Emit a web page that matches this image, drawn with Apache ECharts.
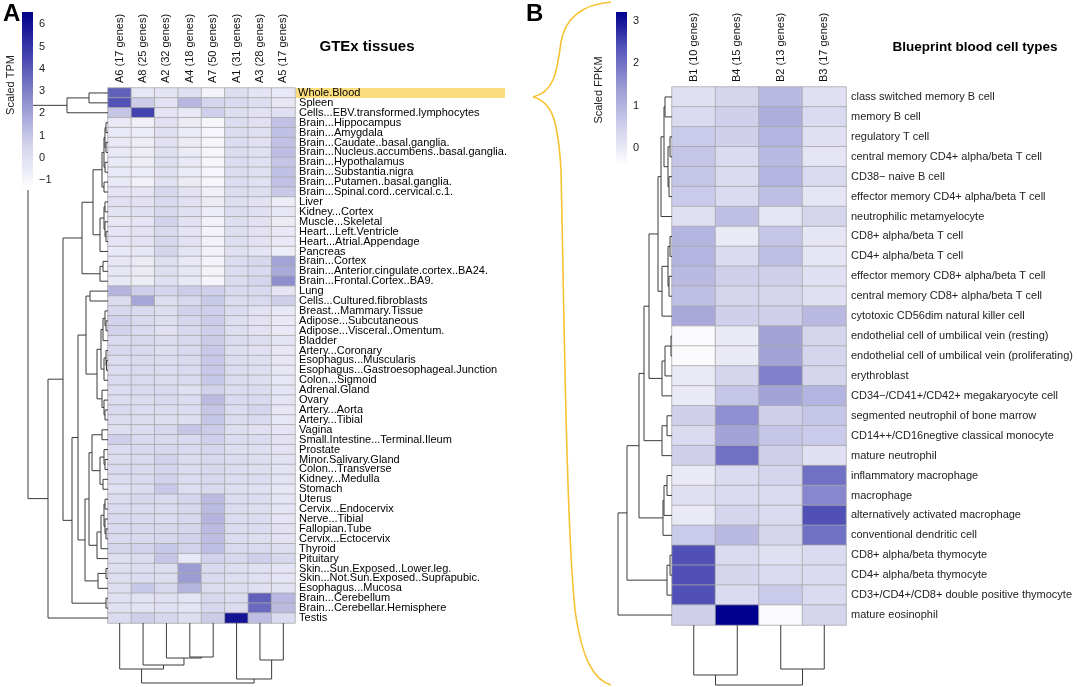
<!DOCTYPE html>
<html><head><meta charset="utf-8">
<script src="https://cdn.jsdelivr.net/npm/echarts@6/dist/echarts.min.js"></script>
<style>html,body{margin:0;padding:0;background:#fff}#c{width:1079px;height:687px}</style>
</head><body><div id="c"></div>
<script>
// ---------------- DATA ----------------
const gtexCols = ['A6 (17 genes)','A8 (25 genes)','A2 (32 genes)','A4 (18 genes)','A7 (50 genes)','A1 (31 genes)','A3 (28 genes)','A5 (17 genes)'];
const gtexTissues = ['Whole.Blood','Spleen','Cells...EBV.transformed.lymphocytes','Brain...Hippocampus','Brain...Amygdala','Brain...Caudate..basal.ganglia.','Brain...Nucleus.accumbens..basal.ganglia.','Brain...Hypothalamus','Brain...Substantia.nigra','Brain...Putamen..basal.ganglia.','Brain...Spinal.cord..cervical.c.1.','Liver','Kidney...Cortex','Muscle...Skeletal','Heart...Left.Ventricle','Heart...Atrial.Appendage','Pancreas','Brain...Cortex','Brain...Anterior.cingulate.cortex..BA24.','Brain...Frontal.Cortex..BA9.','Lung','Cells...Cultured.fibroblasts','Breast...Mammary.Tissue','Adipose...Subcutaneous','Adipose...Visceral..Omentum.','Bladder','Artery...Coronary','Esophagus...Muscularis','Esophagus...Gastroesophageal.Junction','Colon...Sigmoid','Adrenal.Gland','Ovary','Artery...Aorta','Artery...Tibial','Vagina','Small.Intestine...Terminal.Ileum','Prostate','Minor.Salivary.Gland','Colon...Transverse','Kidney...Medulla','Stomach','Uterus','Cervix...Endocervix','Nerve...Tibial','Fallopian.Tube','Cervix...Ectocervix','Thyroid','Pituitary','Skin...Sun.Exposed..Lower.leg.','Skin...Not.Sun.Exposed..Suprapubic.','Esophagus...Mucosa','Brain...Cerebellum','Brain...Cerebellar.Hemisphere','Testis'];
const gtexA6 = [3.8,4.2,1.0,-0.4,-0.4,-0.4,-0.4,-0.4,-0.4,-0.4,-0.2,0,-0.1,-0.3,-0.2,-0.2,-0.4,-0.3,-0.3,-0.4,1.5,0.2,0.4,0.6,0.6,0.3,0.4,0.2,0.2,0.3,0.2,0.2,0.3,0.2,0.1,0.7,0.2,0.2,0.3,0.2,0,0.2,0.3,0.3,0.3,0.3,0.5,0.1,0.1,0.1,0.1,0,0,0.2];
const gtexA8 = [-0.3,0.8,4.6,-0.7,-0.6,-0.6,-0.6,-0.6,-0.6,-0.8,-0.2,-0.1,0,-0.2,-0.1,-0.1,-0.3,-0.5,-0.5,-0.6,0.7,1.9,0.3,0.3,0.3,0.4,0.3,0.3,0.3,0.3,0.3,0.2,0.2,0.2,0.2,0.3,0.3,0.3,0.3,0.3,0.2,0.4,0.3,0.3,0.4,0.3,0.6,0.2,0.2,0.2,0.9,-0.1,-0.1,0.7];
const gtexA2 = [-0.2,-0.1,-0.2,0,0,0,0,0.1,0,0,0.4,0.3,0.4,0.6,0.3,0.4,0.5,0.1,0.1,0,0.5,0.1,0.1,0.1,0,0.2,0.1,0.2,0.2,0.2,0.3,0.3,0.2,0.1,0.4,0.3,0.4,0.6,0.5,0.6,0.9,0.3,0.3,0.2,0.4,0.4,0.9,1.0,0.1,0.1,0.4,0,0,0.4];
const gtexA4 = [0,1.4,-0.4,-0.5,-0.5,-0.5,-0.5,-0.4,-0.5,-0.5,-0.1,0,0,-0.1,-0.2,-0.1,-0.2,-0.4,-0.3,-0.4,0.8,0.4,0.6,0.4,0.4,0.4,0.3,0.3,0.3,0.3,0,0.2,0.2,0.1,1.0,0.3,0.3,0.2,0.2,0.2,0.1,0.5,0.4,0.4,0.5,0.6,0.6,-0.4,2.2,2.2,1.5,-0.2,-0.2,0.1];
const gtexA7 = [-0.9,0.5,0.7,-1,-1,-1,-1,-1,-1,-1,-0.7,-0.5,-0.6,-0.8,-0.9,-0.8,-0.8,-0.9,-0.9,-1,0.7,0.9,0.7,0.8,0.7,0.8,0.9,0.9,0.9,0.9,0.6,1.3,1.0,1.0,0.8,0.7,0.5,0.4,0.4,0.4,0.3,1.3,1.3,1.5,1.3,1.2,1.2,0.6,0.3,0.3,0.2,0.4,0.4,0.8];
const gtexA1 = [0.1,0.3,0.1,0.2,0.2,0.2,0.2,0.2,0.2,0.2,0.2,0.1,0.2,0.1,0.1,0.1,0,0.2,0.2,0.2,0.3,0.2,0.2,0.1,0.1,0.2,0.1,0.2,0.2,0.2,0.2,0.3,0.2,0.2,0.1,0.2,0.1,0.2,0.2,0.2,0.1,0.2,0.2,0.2,0.2,0.2,0.3,0.4,0.1,0.1,0.1,0.2,0.2,6.0];
const gtexA3 = [-0.2,0.1,-0.1,0,0,0,0,0,0,0,0.1,-0.1,0,-0.1,-0.1,-0.1,-0.2,0.4,0.3,0.5,0.3,0.3,-0.1,-0.1,-0.1,0.1,0,0.1,0.1,0.1,0.2,0.3,0.5,0.3,0,0.2,0.1,0.1,0.1,0.2,0,0.2,0.1,0.2,0.2,0.1,0.3,0.7,0,0,0,3.8,3.6,1.2];
const gtexA5 = [-0.4,-0.3,0,1.1,1.1,1.1,1.2,1.0,1.1,1.1,0.9,-0.6,-0.3,-0.5,-0.4,-0.4,-0.6,2.0,1.8,2.6,-0.2,0.7,-0.4,-0.4,-0.4,-0.2,-0.3,-0.3,-0.3,-0.3,-0.2,-0.2,-0.3,-0.3,-0.2,-0.1,-0.1,-0.1,-0.1,-0.1,-0.3,-0.2,-0.2,-0.2,-0.1,-0.1,0.1,0.4,-0.2,-0.2,-0.1,1.4,1.3,0.2];
const gtexTPMTicks = [-1,0,1,2,3,4,5,6];

const bpCols = ['B1 (10 genes)','B4 (15 genes)','B2 (13 genes)','B3 (17 genes)'];
const bpCells = ['class switched memory B cell','memory B cell','regulatory T cell','central memory CD4+ alpha/beta T cell','CD38\u2212 naive B cell','effector memory CD4+ alpha/beta T cell','neutrophilic metamyelocyte','CD8+ alpha/beta T cell','CD4+ alpha/beta T cell','effector memory CD8+ alpha/beta T cell','central memory CD8+ alpha/beta T cell','cytotoxic CD56dim natural killer cell','endothelial cell of umbilical vein (resting)','endothelial cell of umbilical vein (proliferating)','erythroblast','CD34\u2212/CD41+/CD42+ megakaryocyte cell','segmented neutrophil of bone marrow','CD14++/CD16negtive classical monocyte','mature neutrophil','inflammatory macrophage','macrophage','alternatively activated macrophage','conventional dendritic cell','CD8+ alpha/beta thymocyte','CD4+ alpha/beta thymocyte','CD3+/CD4+/CD8+ double positive thymocyte','mature eosinophil'];
const bpB1 = [0.2,0.3,0.6,0.7,0.7,0.6,0.2,1.0,1.0,0.9,0.8,1.2,-0.3,-0.3,0,0,0.5,0.3,0.5,0,0.2,0,0.6,2.4,2.4,2.4,0.5];
const bpB4 = [0.4,0.5,0.5,0.3,0.3,0.3,0.8,0,0.3,0.5,0.4,0.5,0,0,0.4,0.7,1.6,1.3,2.0,0.3,0.3,0.4,0.9,0.3,0.4,0.3,3.2];
const bpB2 = [0.9,1.1,1.0,0.9,1.0,0.8,0.1,0.7,0.8,0.5,0.4,0.5,1.3,1.3,1.8,1.3,0.5,0.7,0.5,0.4,0.3,0.3,0.4,0.2,0.3,0.6,-0.3];
const bpB3 = [0.2,0.3,0.2,0.1,0.3,0.1,0.4,0.1,0.1,0.2,0.2,0.9,0.4,0.4,0.4,1.0,0.7,0.6,0.2,2.0,1.7,2.4,2.0,0.3,0.3,0.3,0.4];
const bpFPKMTicks = [0,1,2,3];

// dendrograms: node = [mergeHeight, left, right], leaf = row/column index
const gtexRowTree =
 [80,
   [41, [19, 0, 1], 2],
   [60,
     [45,
       [26, [15, [6, [4, [3, [2,3,4], [2,5,6]], [3,7,8]], [4,9,10]],
                 [8, [4, [3,11,12], [3,13,[2,14,15]]], 16]],
            [8, [5,17,18], 19]],
       [36,
         [30, [22, [18,20,21],
                   [11, [7, [5, [3,22,[2,23,24]],25], [4,[2,26,[1.5,27,28]],29]], [6,30,[4,31,[3,32,33]]]]],
              [23, [19, [16,[6,34,35],[8,[4,36,[3,37,38]],[5,39,40]]],
                        [11,[7,[4,[3,41,42],[3,43,[2,44,45]]],46],47]],
                   [10,[2,48,49],50]]],
         [2,51,52]]],
     53]];
const gtexColTree = [60, [46, 0, [42, 1, [35, 2, [34, 3, 4]]]], [56, 5, [37, 6, 7]]];
const bpRowTree =
 [54,
   [45,
     [33,
       [28,
         [23,
           [14, [11, [8, [7,0,1], [4,[2,2,3],[3,4,5]]], 6],
                [10, [4,[2,7,8],[3,9,10]], 11]],
           [10, [7, [1,12,13], 14], 15]],
         [10, [5,16,17], 18]],
       [9, [8, [5,19,20], 21], 22]],
     [5, [2,23,24], 25]],
   26];
const bpColTree = [60, [50, 0, 1], [44, 2, 3]];

// ---------------- BUILD ----------------
const FONT = '"Liberation Sans", Arial, Helvetica, sans-serif';
const tpmColors = ['#ffffff','#d4d4ed','#9090d0','#4545b0','#00008a'];
const fpkmColors = ['#ffffff','#d0d0ec','#9d9dd6','#5a5abc','#00008f'];
const TPM_MIN = -1.45, TPM_MAX = 6.55, FPKM_MIN = -0.4, FPKM_MAX = 3.2;

function cells(cols){
  const out = [];
  cols.forEach((arr, c) => arr.forEach((v, r) => out.push([c, r, v])));
  return out;
}
function dendroSegs(tree){
  const segs = [];
  (function walk(n){
    if (typeof n === 'number') return {p: n + 0.5, h: 0};
    const a = walk(n[1]), b = walk(n[2]);
    segs.push([a.p, a.h, b.p, b.h, n[0]]);
    return {p: (a.p + b.p) / 2, h: n[0]};
  })(tree);
  return segs;
}
function dendroSeries(idx, tree, horizontal){
  return {
    type: 'custom', xAxisIndex: idx, yAxisIndex: idx, silent: true, clip: false,
    data: dendroSegs(tree),
    encode: horizontal ? {x: [1,3,4], y: [0,2]} : {x: [0,2], y: [1,3,4]},
    renderItem(params, api){
      const p1 = api.value(0), h1 = api.value(1), p2 = api.value(2), h2 = api.value(3), h = api.value(4);
      const pt = (pos, ht) => horizontal ? api.coord([ht, pos]) : api.coord([pos, ht]);
      return {type: 'polyline', shape: {points: [pt(p1,h1), pt(p1,h), pt(p2,h), pt(p2,h2)]},
              style: {stroke: '#3a3a3a', lineWidth: 1, fill: null}};
    }
  };
}
function colorBarSeries(idx, lo, hi, colors){
  const stops = colors.slice().reverse().map((c,i,a)=>({offset: i/(a.length-1), color: c}));
  return {
    type: 'custom', xAxisIndex: idx, yAxisIndex: idx, silent: true, clip: false,
    data: [[0, lo, 1, hi]], encode: {x: [0,2], y: [1,3]},
    renderItem(params, api){
      const a = api.coord([api.value(0), api.value(3)]);
      const b = api.coord([api.value(2), api.value(1)]);
      return {type: 'rect', shape: {x: a[0], y: a[1], width: b[0]-a[0], height: b[1]-a[1]},
              style: {fill: {type:'linear', x:0, y:0, x2:0, y2:1, colorStops: stops}}};
    }
  };
}
const minusFmt = v => v < 0 ? '\u2212' + Math.abs(v) : String(v);
const hidden = {show: false};
const g = (l,t,w,h) => ({left:l, top:t, width:w, height:h, containLabel:false, outerBoundsMode:'none'});
const braceStyle = {stroke:'#F6C232', lineWidth:1.6, fill:null};
const bz = (x1,y1,c1x,c1y,c2x,c2y,x2,y2) => ({type:'bezierCurve', silent:true,
  shape:{x1:x1, y1:y1, cpx1:c1x, cpy1:c1y, cpx2:c2x, cpy2:c2y, x2:x2, y2:y2}, style:braceStyle});

const option = {
  animation: false,
  backgroundColor: '#ffffff',
  textStyle: {fontFamily: FONT},
  grid: [
    g(108, 88, 187, 535),   // 0 heatmap A
    g(0, 88, 108, 535),     // 1 row dendro A
    g(108, 623, 187, 64),   // 2 col dendro A
    g(672, 87, 174, 538),   // 3 heatmap B
    g(600, 87, 72, 538),    // 4 row dendro B
    g(672, 625, 174, 62),   // 5 col dendro B
    g(22, 12, 11, 178),     // 6 legend A
    g(616, 12, 11, 153)     // 7 legend B
  ],
  xAxis: [
    {type:'category', gridIndex:0, data:gtexCols, position:'top', axisLine:hidden, axisTick:hidden, splitLine:hidden,
     axisLabel:{rotate:-90, margin:5, fontSize:11, color:'#111', interval:0, fontFamily:FONT}},
    {type:'value', gridIndex:1, min:0, max:108, inverse:true, show:false},
    {type:'value', gridIndex:2, min:0, max:8, show:false},
    {type:'category', gridIndex:3, data:bpCols, position:'top', axisLine:hidden, axisTick:hidden, splitLine:hidden,
     axisLabel:{rotate:-90, margin:5, fontSize:11, color:'#111', interval:0, fontFamily:FONT}},
    {type:'value', gridIndex:4, min:0, max:72, inverse:true, show:false},
    {type:'value', gridIndex:5, min:0, max:4, show:false},
    {type:'value', gridIndex:6, min:0, max:1, show:false},
    {type:'value', gridIndex:7, min:0, max:1, show:false}
  ],
  yAxis: [
    {type:'category', gridIndex:0, data:gtexTissues, inverse:true, position:'right', axisLine:hidden, axisTick:hidden, splitLine:hidden,
     axisLabel:{interval:0, margin:1, fontSize:11, color:'#000', fontFamily:FONT, lineHeight:10,
       formatter: v => v === 'Whole.Blood' ? '{hl|' + v + '}' : ' ' + v,
       rich:{hl:{backgroundColor:'#FBDD7E', width:207, height:10, lineHeight:10, fontSize:11, fontFamily:FONT, color:'#000', padding:[0,0,0,2]}}}},
    {type:'value', gridIndex:1, min:0, max:54, inverse:true, show:false},
    {type:'value', gridIndex:2, min:0, max:64, inverse:true, show:false},
    {type:'category', gridIndex:3, data:bpCells, inverse:true, position:'right', axisLine:hidden, axisTick:hidden, splitLine:hidden,
     axisLabel:{interval:0, margin:5, fontSize:11, color:'#222', fontFamily:FONT}},
    {type:'value', gridIndex:4, min:0, max:27, inverse:true, show:false},
    {type:'value', gridIndex:5, min:0, max:62, inverse:true, show:false},
    {type:'value', gridIndex:6, min:TPM_MIN, max:TPM_MAX, position:'right', axisLine:hidden, axisTick:hidden, splitLine:hidden,
     axisLabel:{customValues:gtexTPMTicks, formatter:minusFmt, margin:6, fontSize:11, color:'#222', fontFamily:FONT}},
    {type:'value', gridIndex:7, min:FPKM_MIN, max:FPKM_MAX, position:'right', axisLine:hidden, axisTick:hidden, splitLine:hidden,
     axisLabel:{customValues:bpFPKMTicks, formatter:minusFmt, margin:6, fontSize:11, color:'#222', fontFamily:FONT}}
  ],
  visualMap: [
    {type:'continuous', show:false, seriesIndex:0, dimension:2, min:TPM_MIN, max:TPM_MAX, inRange:{color:tpmColors}},
    {type:'continuous', show:false, seriesIndex:3, dimension:2, min:FPKM_MIN, max:FPKM_MAX, inRange:{color:fpkmColors}}
  ],
  series: [
    {type:'heatmap', xAxisIndex:0, yAxisIndex:0, data: cells([gtexA6,gtexA8,gtexA2,gtexA4,gtexA7,gtexA1,gtexA3,gtexA5]),
     itemStyle:{borderColor:'#a8a8a8', borderWidth:0.8}, emphasis:{disabled:true}},
    dendroSeries(1, gtexRowTree, true),
    dendroSeries(2, gtexColTree, false),
    {type:'heatmap', xAxisIndex:3, yAxisIndex:3, data: cells([bpB1,bpB4,bpB2,bpB3]),
     itemStyle:{borderColor:'#a8a8a8', borderWidth:0.8}, emphasis:{disabled:true}},
    dendroSeries(4, bpRowTree, true),
    dendroSeries(5, bpColTree, false),
    colorBarSeries(6, TPM_MIN, TPM_MAX, tpmColors),
    colorBarSeries(7, FPKM_MIN, FPKM_MAX, fpkmColors)
  ],
  graphic: [
    {type:'text', left:3, top:2, style:{text:'A', font:'bold 24px ' + FONT, fill:'#000'}},
    {type:'text', left:526, top:2, style:{text:'B', font:'bold 24px ' + FONT, fill:'#000'}},
    {type:'text', x:367, y:47, style:{text:'GTEx tissues', font:'bold 15px ' + FONT, fill:'#000', align:'center', verticalAlign:'middle'}},
    {type:'text', x:975, y:47, style:{text:'Blueprint blood cell types', font:'bold 13.5px ' + FONT, fill:'#000', align:'center', verticalAlign:'middle'}},
    {type:'text', x:11, y:85, rotation:Math.PI/2, style:{text:'Scaled TPM', font:'11px ' + FONT, fill:'#222', align:'center', verticalAlign:'middle'}},
    {type:'text', x:599, y:90, rotation:Math.PI/2, style:{text:'Scaled FPKM', font:'11px ' + FONT, fill:'#222', align:'center', verticalAlign:'middle'}},
    bz(611,2, 588,4, 566,14, 561,42),
    bz(561,42, 557,70, 555,92, 533,97),
    bz(533,97, 553,102, 558,122, 561,170),
    bz(561,170, 564,300, 566,520, 575,610),
    bz(575,610, 582,660, 594,680, 611,685)
  ]
};
echarts.init(document.getElementById('c'), null, {renderer:'canvas'}).setOption(option);
</script>
</body></html>
